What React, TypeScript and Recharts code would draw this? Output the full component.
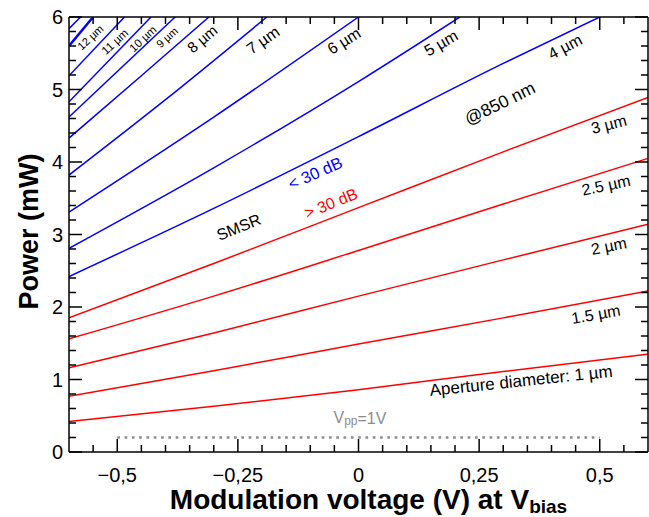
import React from "react";
import { ComposedChart, Line, XAxis, YAxis, ReferenceDot } from "recharts";

// tick positions
const xTicks = [
  -0.55, -0.5, -0.45, -0.4, -0.35, -0.3, -0.25, -0.2, -0.15, -0.1, -0.05, 0,
  0.05, 0.1, 0.15, 0.2, 0.25, 0.3, 0.35, 0.4, 0.45, 0.5, 0.55,
];
const yTicks = [
  0, 0.2, 0.4, 0.6, 0.8, 1, 1.2, 1.4, 1.6, 1.8, 2, 2.2, 2.4, 2.6, 2.8, 3, 3.2,
  3.4, 3.6, 3.8, 4, 4.2, 4.4, 4.6, 4.8, 5, 5.2, 5.4, 5.6, 5.8, 6,
];

// red curves (SMSR > 30 dB)
const vRed = [-0.6, -0.3, 0, 0.3, 0.6];
const p1um = [0.42, 0.63, 0.86, 1.11, 1.35];
const p1_5um = [0.77, 1.12, 1.49, 1.85, 2.22];
const p2um = [1.16, 1.64, 2.15, 2.65, 3.14];
const p2_5um = [1.56, 2.15, 2.78, 3.42, 4.05];
const p3um = [1.85, 2.6, 3.37, 4.14, 4.89];

// blue curves (SMSR < 30 dB)
const v4um = [-0.6, -0.3, 0, 0.3, 0.5];
const p4um = [2.42, 3.36, 4.35, 5.36, 6.0];
const v5um = [-0.6, -0.3, 0, 0.21];
const p5um = [2.81, 3.92, 5.11, 6.0];
const v6um = [-0.6, -0.3, 0];
const p6um = [3.31, 4.62, 6.0];
const v7um = [-0.6, -0.4, -0.19];
const p7um = [3.82, 4.86, 6.0];
const v8um = [-0.6, -0.45, -0.31];
const p8um = [4.33, 5.19, 6.0];
const v9um = [-0.6, -0.38];
const p9um = [4.62, 6.0];
const v10um = [-0.6, -0.43];
const p10um = [4.83, 6.0];
const v11um = [-0.6, -0.485];
const p11um = [5.19, 6.0];
const v12um = [-0.6, -0.55];
const p12um = [5.6, 6.0];
const v13um = [-0.6, -0.576];
const p13um = [5.84, 6.0];

// Vpp = 1 V swing
const vSwing = [-0.5, 0.5];
const pSwing = [0.2, 0.2];

const zip = (xs: number[], ys: number[]) => xs.map((x, i) => ({ x, y: ys[i] }));

const redCurves = [
  zip(vRed, p1um),
  zip(vRed, p1_5um),
  zip(vRed, p2um),
  zip(vRed, p2_5um),
  zip(vRed, p3um),
];
const blueCurves = [
  zip(v4um, p4um),
  zip(v5um, p5um),
  zip(v6um, p6um),
  zip(v7um, p7um),
  zip(v8um, p8um),
  zip(v9um, p9um),
  zip(v10um, p10um),
  zip(v11um, p11um),
  zip(v12um, p12um),
  zip(v13um, p13um),
];

// annotations: [x, y, text, angle, fontSize, color]
const notes: [number, number, string, number, number, string][] = [
  [-0.556, 5.72, "12 µm", -43, 11, "#000"],
  [-0.505, 5.66, "11 µm", -43, 11.5, "#000"],
  [-0.447, 5.7, "10 µm", -43, 11.5, "#000"],
  [-0.397, 5.72, "9 µm", -42, 11, "#000"],
  [-0.324, 5.7, "8 µm", -40, 15, "#000"],
  [-0.198, 5.68, "7 µm", -35, 16, "#000"],
  [-0.03, 5.67, "6 µm", -32, 16, "#000"],
  [0.171, 5.64, "5 µm", -30, 16, "#000"],
  [0.428, 5.59, "4 µm", -28, 16, "#000"],
  [0.293, 4.81, "@850 nm", -26, 17.5, "#000"],
  [0.519, 4.52, "3 µm", -14, 16, "#000"],
  [0.513, 3.68, "2.5 µm", -12, 16, "#000"],
  [0.519, 2.84, "2 µm", -11, 16, "#000"],
  [0.492, 1.9, "1.5 µm", -10, 16, "#000"],
  [0.337, 0.98, "Aperture diameter: 1 µm", -6, 17, "#000"],
  [-0.248, 3.1, "SMSR", -22, 16, "#000"],
  [-0.09, 3.85, "< 30 dB", -24, 16.5, "#0000ff"],
  [-0.057, 3.43, "> 30 dB", -22, 16, "#ff0000"],
];

const FONT = "'Liberation Sans', Arial, Helvetica, sans-serif";
const MAJOR = 13;
const MINOR = 7;

const isMajorX = (v: number) => Math.abs(v * 4 - Math.round(v * 4)) < 1e-6;
const isMajorY = (v: number) => Math.abs(v - Math.round(v)) < 1e-6;
const fmt = (v: number) => String(v).replace(".", ",").replace("-", "\u2212");

const BottomTick = (props: any) => {
  const { x, y, payload } = props;
  const major = isMajorX(payload.value);
  return (
    <g>
      <line x1={x} x2={x} y1={y} y2={y - (major ? MAJOR : MINOR)} stroke="#000" strokeWidth={1.5} />
      {major && (
        <text x={x} y={y + 30} textAnchor="middle" fontSize={20} fontFamily={FONT} fill="#000">
          {fmt(payload.value)}
        </text>
      )}
    </g>
  );
};

const TopTick = (props: any) => {
  const { x, y, payload } = props;
  const major = isMajorX(payload.value);
  return <line x1={x} x2={x} y1={y} y2={y + (major ? MAJOR : MINOR)} stroke="#000" strokeWidth={1.5} />;
};

const LeftTick = (props: any) => {
  const { x, y, payload } = props;
  const major = isMajorY(payload.value);
  return (
    <g>
      <line x1={x} x2={x + (major ? MAJOR : MINOR)} y1={y} y2={y} stroke="#000" strokeWidth={1.5} />
      {major && (
        <text x={x - 6} y={y} dy="0.36em" textAnchor="end" fontSize={20} fontFamily={FONT} fill="#000">
          {fmt(payload.value)}
        </text>
      )}
    </g>
  );
};

const RightTick = (props: any) => {
  const { x, y, payload } = props;
  const major = isMajorY(payload.value);
  return <line x1={x} x2={x - (major ? MAJOR : MINOR)} y1={y} y2={y} stroke="#000" strokeWidth={1.5} />;
};

const XTitle = (props: any) => {
  const { x, y, width } = props.viewBox;
  return (
    <text x={x + width / 2 + 10} y={y + 57} textAnchor="middle" fontSize={28} fontWeight="bold" fontFamily={FONT} fill="#000">
      Modulation voltage (V) at V
      <tspan fontSize={19} dy={4}>bias</tspan>
    </text>
  );
};

const YTitle = (props: any) => {
  const { x, y, height, width } = props.viewBox;
  const cx = x + width - 31;
  const cy = y + height / 2 - 3;
  return (
    <text x={cx} y={cy} transform={`rotate(-90, ${cx}, ${cy})`} textAnchor="middle" fontSize={27} fontWeight="bold" fontFamily={FONT} fill="#000">
      Power (mW)
    </text>
  );
};

const noteShape = (text: string, angle: number, size: number, color: string) => (p: any) => (
  <text
    x={p.cx}
    y={p.cy}
    transform={`rotate(${angle}, ${p.cx}, ${p.cy})`}
    textAnchor="middle"
    dominantBaseline="central"
    fontSize={size}
    fontFamily={FONT}
    fill={color}
  >
    {text}
  </text>
);

const vppShape = (p: any) => (
  <text x={p.cx} y={p.cy} textAnchor="middle" dominantBaseline="central" fontSize={16} fontFamily={FONT} fill="#8c8c8c">
    V<tspan fontSize={12} dy={3}>pp</tspan>
    <tspan dy={-3}>=1V</tspan>
  </text>
);

const axisLine = { stroke: "#000", strokeWidth: 1.5 };

export default function App() {
  return (
    <div style={{ position: "absolute", left: 0, top: 0, width: 649, height: 517, background: "#fff" }}>
      <ComposedChart width={649} height={517} margin={{ top: 16, right: 0, bottom: 64, left: 68 }}>
        <XAxis
          type="number"
          dataKey="x"
          domain={[-0.6, 0.6]}
          allowDataOverflow
          ticks={xTicks}
          interval={0}
          height={1}
          tickSize={0}
          tickMargin={0}
          tickLine={false}
          axisLine={axisLine}
          tick={<BottomTick />}
          label={{ content: <XTitle /> }}
        />
        <XAxis
          xAxisId="top"
          orientation="top"
          type="number"
          dataKey="x"
          domain={[-0.6, 0.6]}
          allowDataOverflow
          ticks={xTicks}
          interval={0}
          height={1}
          tickSize={0}
          tickMargin={0}
          tickLine={false}
          axisLine={axisLine}
          tick={<TopTick />}
        />
        <YAxis
          type="number"
          domain={[0, 6]}
          allowDataOverflow
          ticks={yTicks}
          interval={0}
          width={1}
          tickSize={0}
          tickMargin={0}
          tickLine={false}
          axisLine={axisLine}
          tick={<LeftTick />}
          label={{ content: <YTitle /> }}
        />
        <YAxis
          yAxisId="right"
          orientation="right"
          type="number"
          domain={[0, 6]}
          allowDataOverflow
          ticks={yTicks}
          interval={0}
          width={1}
          tickSize={0}
          tickMargin={0}
          tickLine={false}
          axisLine={axisLine}
          tick={<RightTick />}
        />
        {redCurves.map((d, i) => (
          <Line key={"r" + i} data={d} dataKey="y" type="monotone" stroke="#ff0000" strokeWidth={1.5} dot={false} isAnimationActive={false} />
        ))}
        {blueCurves.map((d, i) => (
          <Line
            key={"b" + i}
            data={d}
            dataKey="y"
            type="monotone"
            stroke="#0000ff"
            strokeWidth={i === 8 ? 2.5 : 1.5}
            dot={false}
            isAnimationActive={false}
          />
        ))}
        <Line
          data={zip(vSwing, pSwing)}
          dataKey="y"
          type="linear"
          stroke="#8c8c8c"
          strokeWidth={2.7}
          strokeDasharray="2.7 4.6"
          dot={false}
          isAnimationActive={false}
        />
        {notes.map(([x, y, text, angle, size, color], i) => (
          <ReferenceDot key={"n" + i} x={x} y={y} r={0} shape={noteShape(text, angle, size, color)} />
        ))}
        <ReferenceDot x={0.003} y={0.47} r={0} shape={vppShape} />
      </ComposedChart>
    </div>
  );
}
